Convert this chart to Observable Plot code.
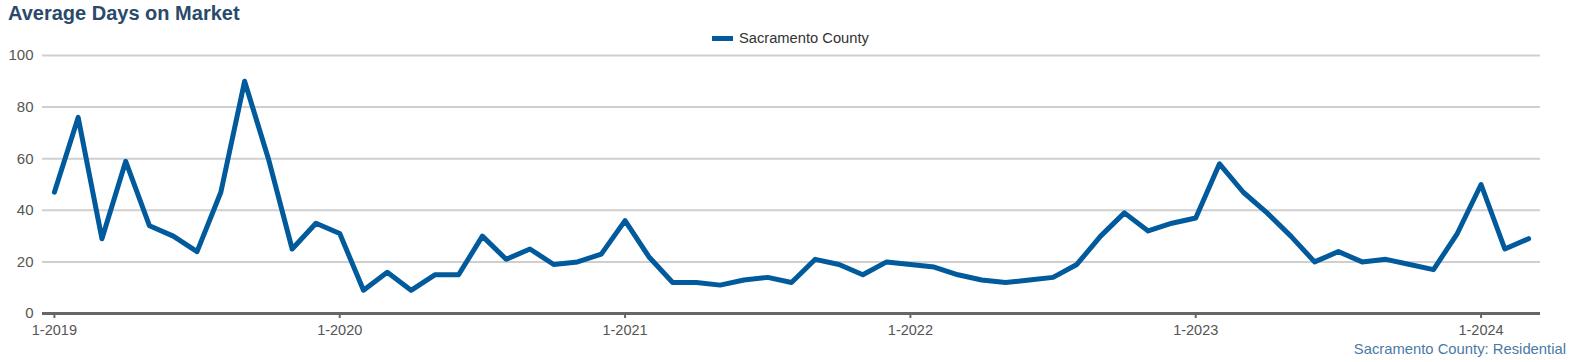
<!DOCTYPE html>
<html>
<head>
<meta charset="utf-8">
<script src="https://cdn.jsdelivr.net/npm/d3@7"></script>
<script src="https://cdn.jsdelivr.net/npm/@observablehq/plot@0.6"></script>
<style>
  body { margin: 0; background: #fff; font-family: "Liberation Sans", Arial, sans-serif; }
  #wrap { position: relative; width: 1571px; height: 362px; overflow: hidden; }
  #title { position: absolute; left: 8px; top: 1px; font-weight: bold; font-size: 20px; line-height: 24px; color: #2b4a6b; white-space: nowrap; }
  #legend { position: absolute; left: 712px; top: 29px; font-size: 14.7px; line-height: 18px; color: #333; white-space: nowrap; display: flex; align-items: center; }
  #legend .sw { display: inline-block; width: 21px; height: 5px; background: #005a9c; margin-right: 6px; }
  #caption { position: absolute; right: 5px; top: 340px; font-size: 14.8px; line-height: 18px; color: #4a79a5; white-space: nowrap; }
  #chart { position: absolute; left: 0; top: 0; }
</style>
</head>
<body>
<div id="wrap">
  <div id="chart"></div>
  <div id="title"></div>
  <div id="legend"><span class="sw"></span><span id="legendText"></span></div>
  <div id="caption"></div>
</div>
<script>
const titleText = "Average Days on Market";
const seriesName = "Sacramento County";
const captionText = "Sacramento County: Residential";

const months = [
  "1-2019","2-2019","3-2019","4-2019","5-2019","6-2019","7-2019","8-2019","9-2019","10-2019","11-2019","12-2019",
  "1-2020","2-2020","3-2020","4-2020","5-2020","6-2020","7-2020","8-2020","9-2020","10-2020","11-2020","12-2020",
  "1-2021","2-2021","3-2021","4-2021","5-2021","6-2021","7-2021","8-2021","9-2021","10-2021","11-2021","12-2021",
  "1-2022","2-2022","3-2022","4-2022","5-2022","6-2022","7-2022","8-2022","9-2022","10-2022","11-2022","12-2022",
  "1-2023","2-2023","3-2023","4-2023","5-2023","6-2023","7-2023","8-2023","9-2023","10-2023","11-2023","12-2023",
  "1-2024","2-2024","3-2024"
];

const daysOnMarket = [
  47, 76, 29, 59, 34, 30, 24, 47, 90, 60, 25, 35,
  31, 9, 16, 9, 15, 15, 30, 21, 25, 19, 20, 23,
  36, 22, 12, 12, 11, 13, 14, 12, 21, 19, 15, 20,
  19, 18, 15, 13, 12, 13, 14, 19, 30, 39, 32, 35,
  37, 58, 47, 39, 30, 20, 24, 20, 21, 19, 17, 31,
  50, 25, 29
];

const xTicks = ["1-2019","1-2020","1-2021","1-2022","1-2023","1-2024"];
const yTicks = [0, 20, 40, 60, 80, 100];
const gridValues = [20, 40, 60, 80, 100];

const data = months.map((m, i) => ({month: m, value: daysOnMarket[i]}));

document.getElementById("title").textContent = titleText;
document.getElementById("legendText").textContent = seriesName;
document.getElementById("caption").textContent = captionText;

const chart = Plot.plot({
  width: 1571,
  height: 362,
  marginTop: 55,
  marginBottom: 49,
  marginLeft: 42,
  marginRight: 31,
  style: {fontSize: "14.5px", fontFamily: "Liberation Sans, Arial, sans-serif", color: "#555", background: "transparent"},
  x: {type: "point", domain: months, padding: 0.5, axis: null},
  y: {domain: [0, 100], axis: null},
  marks: [
    Plot.ruleY(gridValues, {stroke: "#cfcfcf", strokeWidth: 2}),
    Plot.axisY({ticks: yTicks, tickSize: 0, tickPadding: 9, fill: "#555", fontSize: 15, label: null}),
    Plot.axisX({ticks: xTicks, tickSize: 5, tickPadding: 6, stroke: "#666", strokeWidth: 2, fill: "#555", label: null}),
    Plot.ruleY([0], {stroke: "#666", strokeWidth: 3}),
    Plot.line(data, {x: "month", y: "value", stroke: "#005a9c", strokeWidth: 5})
  ]
});
document.getElementById("chart").appendChild(chart);
</script>
</body>
</html>
